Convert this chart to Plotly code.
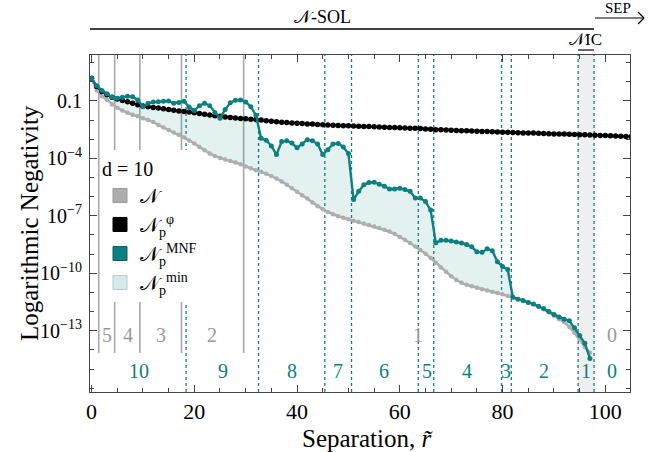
import numpy as np
import plotly.graph_objects as go

# ---------------- data (log10 of logarithmic negativity) ----------------
r_main = list(range(0, 98))   # separations for N and N_p^MNF
r_phi = list(range(0, 106))   # separations for N_p^phi

log_N = [0.18, -0.45, -0.75, -0.95, -1.18, -1.35, -1.5, -1.62, -1.72, -1.8,
         -1.9, -2.0, -2.1, -2.25, -2.38, -2.52, -2.65, -2.77, -2.9, -3.06,
         -3.22, -3.4, -3.58, -3.74, -3.88, -3.98, -4.06, -4.14, -4.21, -4.3,
         -4.42, -4.52, -4.62, -4.7, -4.8, -4.92, -5.05, -5.2, -5.38, -5.56,
         -5.74, -5.92, -6.1, -6.3, -6.5, -6.66, -6.8, -6.92, -7.02, -7.1,
         -7.18, -7.25, -7.32, -7.4, -7.48, -7.56, -7.63, -7.72, -7.82, -7.95,
         -8.1, -8.25, -8.42, -8.6, -8.78, -8.98, -9.2, -9.45, -9.7, -9.92,
         -10.15, -10.35, -10.5, -10.6, -10.68, -10.76, -10.83, -10.9, -10.96, -11.03,
         -11.1, -11.18, -11.25, -11.35, -11.42, -11.52, -11.62, -11.74, -11.88, -12.04,
         -12.22, -12.4, -12.55, -12.8, -13.1, -13.45, -13.85, -14.15]

log_MNF = [0.18, -0.2, -0.45, -0.62, -0.8, -0.86, -0.8, -0.76, -0.78, -0.95,
           -1.3, -1.12, -1.06, -1.04, -1.02, -1.0, -1.12, -1.08, -1.02, -1.32,
           -1.5, -1.25, -1.12, -1.25, -1.6, -1.9, -1.45, -1.1, -0.96, -0.95,
           -1.05, -1.3, -1.75, -2.95, -3.05, -3.35, -3.8, -3.12, -3.08, -3.2,
           -3.45, -3.25, -3.02, -3.08, -3.25, -3.8, -3.55, -3.25, -3.22, -3.4,
           -3.75, -6.15, -5.72, -5.38, -5.26, -5.25, -5.35, -5.45, -5.6, -5.6,
           -5.56, -5.62, -5.72, -6.07, -6.07, -6.25, -6.7, -8.4, -8.28, -8.28,
           -8.32, -8.36, -8.42, -8.5, -8.62, -8.88, -8.9, -8.72, -8.82, -9.4,
           -9.65, -9.8, -11.25, -11.35, -11.42, -11.52, -11.6, -11.72, -11.84, -12.0,
           -12.15, -12.28, -12.4, -12.48, -12.85, -13.25, -13.65, -14.45]

log_phi = [0.18, -0.25, -0.5, -0.68, -0.8, -0.9, -0.97, -1.04, -1.12, -1.2,
           -1.27, -1.3, -1.34, -1.37, -1.41, -1.45, -1.49, -1.52, -1.55, -1.58,
           -1.62, -1.66, -1.7, -1.73, -1.77, -1.8, -1.84, -1.87, -1.89, -1.91,
           -1.93, -1.95, -1.97, -2.0, -2.03, -2.06, -2.08, -2.11, -2.13, -2.15,
           -2.16, -2.18, -2.2, -2.21, -2.23, -2.24, -2.25, -2.27, -2.28, -2.29,
           -2.3, -2.31, -2.32, -2.33, -2.34, -2.35, -2.36, -2.37, -2.38, -2.39,
           -2.4, -2.41, -2.42, -2.43, -2.44, -2.46, -2.48, -2.5, -2.51, -2.52,
           -2.53, -2.54, -2.55, -2.56, -2.57, -2.58, -2.59, -2.6, -2.61, -2.62,
           -2.63, -2.64, -2.65, -2.66, -2.67, -2.67, -2.68, -2.69, -2.7, -2.71,
           -2.72, -2.72, -2.73, -2.74, -2.75, -2.76, -2.77, -2.78, -2.79, -2.8,
           -2.81, -2.82, -2.83, -2.84, -2.85, -2.86]

# thresholds (separation values)
N_thresholds = [1.4, 4.5, 9.4, 17.5, 29.6, 97.8]
MNF_thresholds = [18.4, 32.5, 45.4, 50.6, 63.6, 66.6, 79.8, 81.7, 94.7, 97.8]
NIC_region = [94.7, 97.8]
NSOL_end = 97.8

N_labels = ["5", "4", "3", "2", "1", "0"]
N_label_pos = [2.95, 7.0, 13.5, 23.5, 63.6, 101.3]
MNF_labels = ["10", "9", "8", "7", "6", "5", "4", "3", "2", "1", "0"]
MNF_label_pos = [9.2, 25.5, 39.0, 48.0, 57.0, 65.2, 73.0, 80.6, 88.0, 96.2, 101.3]

yticks_exp = [-1, -4, -7, -10, -13]
yticks_text = ["0.1", "10<sup>−4</sup>", "10<sup>−7</sup>", "10<sup>−10</sup>", "10<sup>−13</sup>"]
xticks = [0, 20, 40, 60, 80, 100]

# ---------------- styling ----------------
TEAL = "#0b8080"
GRAY = "#aeaeae"
FILL = "rgba(11,128,128,0.11)"
FONT = "Liberation Serif"
NS = "𝒩"
L, R, T, B = 90, 27, 55, 60
PW, PH = 657 - L - R, 452 - T - B


def px(xp):   # pixel x -> paper x
    return (xp - L) / PW


def py(yp):   # pixel y -> paper y
    return (452 - B - yp) / PH


N = 10 ** np.array(log_N)
MNF = 10 ** np.array(log_MNF)
PHI = 10 ** np.array(log_phi)
PMIN = np.minimum(MNF, PHI[:len(MNF)])

fig = go.Figure()

# shaded N_p^min region between N and min(N_p^phi, N_p^MNF)
fig.add_trace(go.Scatter(x=r_main, y=N, mode="lines", line=dict(width=0, color="white"),
                         showlegend=False, hoverinfo="skip"))
fig.add_trace(go.Scatter(x=r_main, y=PMIN, mode="lines", line=dict(width=0),
                         fill="tonexty", fillcolor=FILL, showlegend=False, hoverinfo="skip"))

fig.add_trace(go.Scatter(x=r_main, y=N, mode="lines+markers",
                         line=dict(color=GRAY, width=2.5), marker=dict(color=GRAY, size=4.5),
                         showlegend=False))
fig.add_trace(go.Scatter(x=r_phi, y=PHI, mode="lines+markers",
                         line=dict(color="black", width=2), marker=dict(color="black", size=5.5),
                         showlegend=False))
fig.add_trace(go.Scatter(x=r_main, y=MNF, mode="lines+markers",
                         line=dict(color=TEAL, width=2.4), marker=dict(color=TEAL, size=5),
                         showlegend=False))

# legend entries
leg = [(GRAY, "#999999", NS),
       ("black", "black", NS + "<sub>p</sub><sup>φ</sup>"),
       (TEAL, "#086060", NS + "<sub>p</sub><sup>MNF</sup>"),
       ("#d4e9ea", "#b5cfd0", NS + "<sub>p</sub><sup>min</sup>")]
for i, (c, lc, name) in enumerate(leg):
    fig.add_trace(go.Scatter(x=[None], y=[None], mode="markers", name=name,
                             legendgroup="g%d" % i,
                             marker=dict(symbol="square", size=14, color=c,
                                         line=dict(color=lc, width=1))))

shapes = []
# NIC band
shapes.append(dict(type="rect", xref="x", yref="paper", x0=NIC_region[0], x1=NIC_region[1],
                   y0=0, y1=1, fillcolor="#efefef", line=dict(width=0), layer="below"))
for t in N_thresholds[:-1]:
    shapes.append(dict(type="line", xref="x", yref="paper", x0=t, x1=t, y0=py(353), y1=1,
                       line=dict(color="#a8a8a8", width=1.6), layer="below"))
for t in MNF_thresholds:
    shapes.append(dict(type="line", xref="x", yref="paper", x0=t, x1=t, y0=0, y1=1,
                       line=dict(color=TEAL, width=1.3, dash="3px,3px"), layer="below"))
# N-SOL bar, NIC bracket, SEP arrow above the plot
shapes.append(dict(type="line", xref="x", yref="paper", x0=-0.3, x1=NSOL_end, y0=py(29), y1=py(29),
                   line=dict(color="black", width=1.3)))
shapes.append(dict(type="line", xref="x", yref="paper", x0=NIC_region[0], x1=NIC_region[1],
                   y0=py(50), y1=py(50), line=dict(color="black", width=1.2)))
shapes.append(dict(type="line", xref="paper", yref="paper", x0=px(595), x1=px(644),
                   y0=py(18), y1=py(18), line=dict(color="black", width=1.2)))
shapes.append(dict(type="line", xref="paper", yref="paper", x0=px(638), x1=px(644),
                   y0=py(12), y1=py(18), line=dict(color="black", width=1.2)))
shapes.append(dict(type="line", xref="paper", yref="paper", x0=px(638), x1=px(644),
                   y0=py(24), y1=py(18), line=dict(color="black", width=1.2)))

annotations = []
for lab, p in zip(N_labels, N_label_pos):
    annotations.append(dict(x=p, y=-13.2, xref="x", yref="y", text=lab, showarrow=False,
                            font=dict(family=FONT, size=20, color="#999999")))
for lab, p in zip(MNF_labels, MNF_label_pos):
    annotations.append(dict(x=p, y=-15.1, xref="x", yref="y", text=lab, showarrow=False,
                            font=dict(family=FONT, size=20, color=TEAL)))
annotations.append(dict(x=45.0, y=py(29), xref="x", yref="paper", text=NS + "-SOL",
                        showarrow=False, yanchor="bottom", font=dict(family=FONT, size=18, color="black")))
annotations.append(dict(x=96.2, y=py(51), xref="x", yref="paper", text=NS + "IC",
                        showarrow=False, yanchor="bottom", font=dict(family=FONT, size=17, color="black")))
annotations.append(dict(x=px(618), y=py(18), xref="paper", yref="paper", text="SEP",
                        showarrow=False, xanchor="center", yanchor="bottom",
                        font=dict(family=FONT, size=15, color="black")))
# axis titles
annotations.append(dict(x=px(367), y=py(438), xref="paper", yref="paper", text="Separation, <i>r̃</i>",
                        showarrow=False, xanchor="center", yanchor="middle",
                        font=dict(family=FONT, size=25, color="black")))
annotations.append(dict(x=px(29), y=py(223), xref="paper", yref="paper", text="Logarithmic Negativity",
                        textangle=-90, showarrow=False, xanchor="center", yanchor="middle",
                        font=dict(family=FONT, size=25, color="black")))

fig.update_layout(
    width=657, height=452,
    margin=dict(l=L, r=R, t=T, b=B, autoexpand=False),
    paper_bgcolor="white", plot_bgcolor="white",
    font=dict(family=FONT, size=20, color="black"),
    shapes=shapes, annotations=annotations,
    legend=dict(x=px(100), y=py(150), xanchor="left", yanchor="top", bgcolor="white",
                traceorder="normal", tracegroupgap=5,
                title=dict(text="d = 10", font=dict(family=FONT, size=20)),
                font=dict(family=FONT, size=20), itemwidth=30),
)
fig.update_xaxes(range=[-0.3, 104.8], tickvals=xticks, ticks="inside", ticklen=7,
                 showline=True, linecolor="#444", linewidth=1, mirror="ticks",
                 showgrid=False, zeroline=False, tickcolor="#444", automargin=False,
                 minor=dict(dtick=5, ticks="inside", ticklen=4, tickcolor="#444"),
                 tickfont=dict(size=22))
fig.update_yaxes(type="log", range=[-16.2, 1.4], tickvals=[10.0 ** e for e in yticks_exp],
                 ticktext=yticks_text, ticks="inside", ticklen=7, ticklabelstandoff=3,
                 showline=True, linecolor="#444", linewidth=1, mirror="ticks",
                 showgrid=False, zeroline=False, tickcolor="#444", automargin=False,
                 minor=dict(tickvals=[10.0 ** e for e in range(-16, 2)], ticks="inside", ticklen=4,
                            tickcolor="#444"),
                 tickfont=dict(size=20))

fig.write_html("out.html", config={"displayModeBar": False},
               post_script="document.body.style.margin='0';document.body.style.padding='0';")
